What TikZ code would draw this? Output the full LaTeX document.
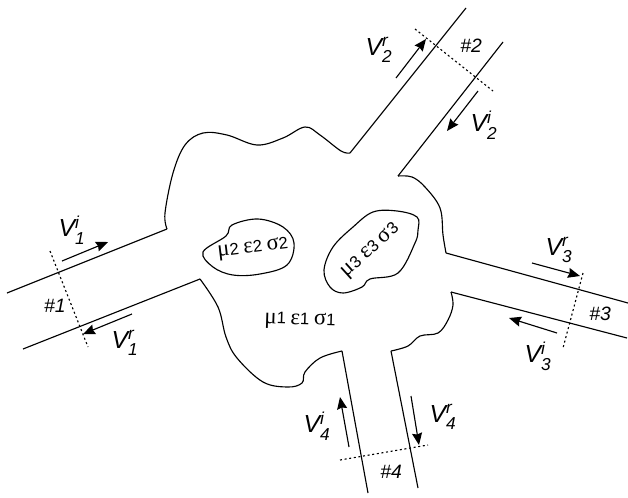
\documentclass[tikz,border=0pt]{standalone}
\usepackage{amsmath}
\usepackage{fontspec}
\setmainfont{Liberation Sans}
\newfontfamily\greekfont{Liberation Serif}
\usepackage{tikz}
\usetikzlibrary{arrows.meta}
\newcommand{\portv}[2]{{\itshape V}$_{\textit{#1}}^{\textit{#2}}$}
\newcommand{\medium}[1]{{\greekfont\fontsize{17}{17}\selectfont μ}#1 {\greekfont\fontsize{17}{17}\selectfont ε}#1 {\greekfont\fontsize{17}{17}\selectfont σ}#1}
\tikzset{
  duct/.style={line width=0.85pt},
  rim/.style={line width=0.85pt,smooth,tension=0.6},
  plane/.style={line width=0.85pt,dash pattern=on 1.5pt off 2pt},
  wave/.style={line width=0.85pt,->},
  vlabel/.style={font=\fontsize{18.5}{20}\selectfont,inner sep=0pt},
  portname/.style={font=\fontsize{14.5}{16}\selectfont\itshape,inner sep=0pt},
  matname/.style={font=\fontsize{12.5}{14}\selectfont,inner sep=0pt}
}
\begin{document}
\begin{tikzpicture}[x=0.75pt,y=-0.75pt,>={Stealth[length=9pt,width=7.5pt,inset=1pt]}]
  \useasboundingbox (0,0) rectangle (628,497);
  \coordinate (a1) at (167,229); \coordinate (b1) at (7,293);
  \coordinate (c1) at (200,279); \coordinate (e1) at (23,349);
  \coordinate (a2) at (350,153); \coordinate (b2) at (466,8);
  \coordinate (c2) at (398,176); \coordinate (e2) at (503,42);
  \coordinate (a3) at (446,253); \coordinate (b3) at (628,303);
  \coordinate (c3) at (451,292); \coordinate (e3) at (627,338);
  \coordinate (a4) at (342,351); \coordinate (b4) at (368,493);
  \coordinate (c4) at (391,351); \coordinate (e4) at (418,488);
  \draw[duct] (a1) -- (b1);
  \draw[duct] (c1) -- (e1);
  \draw[duct] (a2) -- (b2);
  \draw[duct] (c2) -- (e2);
  \draw[duct] (a3) -- (b3);
  \draw[duct] (c3) -- (e3);
  \draw[duct] (a4) -- (b4);
  \draw[duct] (c4) -- (e4);
  \draw[rim] plot coordinates {(a1) (165,213) (173,173) (185,145) (203,133) (227,135) (257,145) (283,138) (305,127) (320,135) (341,151) (a2)};
  \draw[rim] plot coordinates {(c2) (412,177) (425,187) (440,208) (443,235) (a3)};
  \draw[rim] plot coordinates {(c3) (453,305) (448,320) (438,333) (420,336) (408,346) (c4)};
  \draw[rim] plot coordinates {(c1) (218,307) (226,337) (237,358) (263,382) (288,387) (302,383) (305,372) (320,358) (a4)};
  \draw[rim] plot[smooth cycle] coordinates {(226,236) (232,225) (258,219) (283,227) (294,243) (287,265) (260,274) (233,275) (213,267) (203,252)};
  \draw[rim] plot[smooth cycle] coordinates {(418,230) (417,217) (397,211) (373,212) (353,227) (333,247) (324,270) (330,287) (343,293) (362,287) (370,279) (398,273) (415,243)};
  \coordinate (s1) at (50,251); \coordinate (t1) at (88,347);
  \coordinate (s2) at (415,29); \coordinate (t2) at (493,91);
  \coordinate (s3) at (583,273); \coordinate (t3) at (563,348);
  \coordinate (s4) at (340,460); \coordinate (t4) at (428,445);
  \draw[plane] (s1) -- (t1);
  \draw[plane] (s2) -- (t2);
  \draw[plane] (s3) -- (t3);
  \draw[plane] (s4) -- (t4);
  \coordinate (i1a) at (62,261); \coordinate (i1b) at (108,242);
  \coordinate (r1a) at (132,314); \coordinate (r1b) at (83,334);
  \coordinate (r2a) at (396,78); \coordinate (r2b) at (426,39);
  \coordinate (i2a) at (478,91); \coordinate (i2b) at (447,131);
  \coordinate (r3a) at (532,263); \coordinate (r3b) at (580,276);
  \coordinate (i3a) at (557,333); \coordinate (i3b) at (509,318);
  \coordinate (i4a) at (349,447); \coordinate (i4b) at (340,397);
  \coordinate (r4a) at (411,396); \coordinate (r4b) at (419,445);
  \draw[wave] (i1a) -- (i1b);
  \draw[wave] (r1a) -- (r1b);
  \draw[wave] (r2a) -- (r2b);
  \draw[wave] (i2a) -- (i2b);
  \draw[wave] (r3a) -- (r3b);
  \draw[wave] (i3a) -- (i3b);
  \draw[wave] (i4a) -- (i4b);
  \draw[wave] (r4a) -- (r4b);
  \node[vlabel] (v1i) at (72,230) {\portv{1}{i}};
  \node[vlabel] (v1r) at (125,343) {\portv{1}{r}};
  \node[vlabel] (v2r) at (379,50) {\portv{2}{r}};
  \node[vlabel] (v2i) at (484,125) {\portv{2}{i}};
  \node[vlabel] (v3r) at (559,250) {\portv{3}{r}};
  \node[vlabel] (v3i) at (538,356) {\portv{3}{i}};
  \node[vlabel] (v4i) at (317,426) {\portv{4}{i}};
  \node[vlabel] (v4r) at (443,417) {\portv{4}{r}};
  \node[portname] (n1) at (55,306) {\#1};
  \node[portname] (n2) at (471,46) {\#2};
  \node[portname] (n3) at (600,314) {\#3};
  \node[portname] (n4) at (391,472) {\#4};
  \node[matname,rotate=-2] (m1) at (300,321) {\medium{1}};
  \node[matname,rotate=7] (m2) at (253,249) {\medium{2}};
  \node[matname,rotate=42] (m3) at (371,251) {\medium{3}};
\end{tikzpicture}
\end{document}
